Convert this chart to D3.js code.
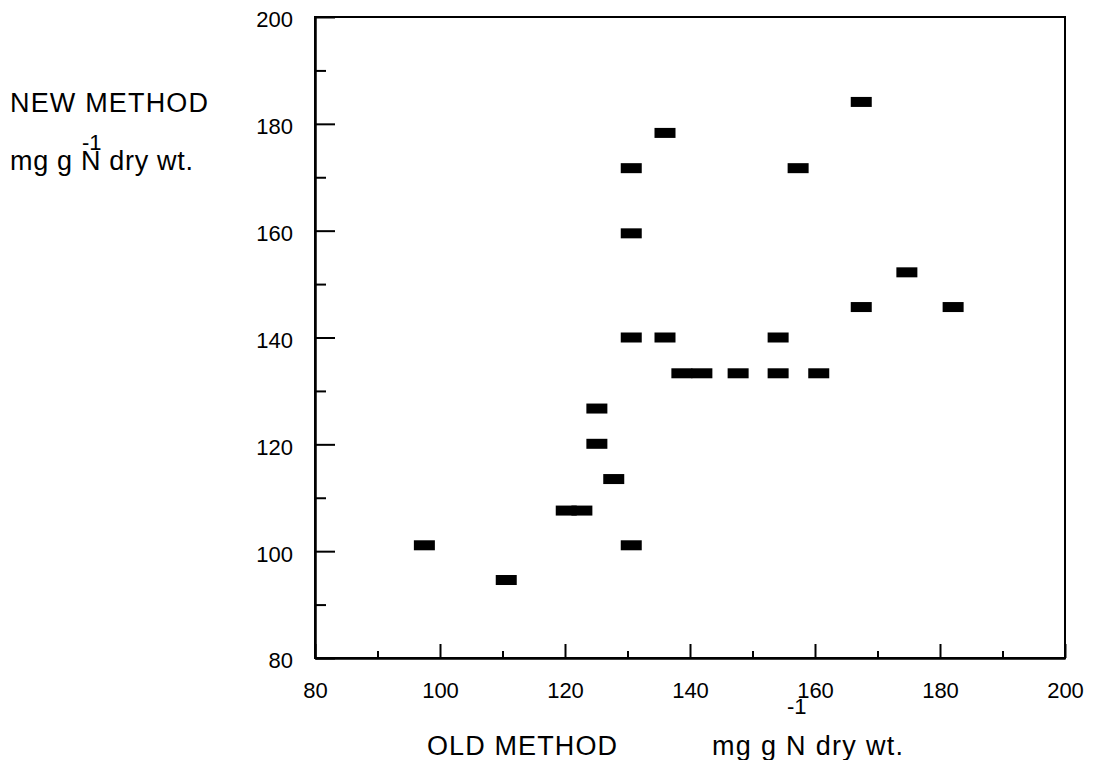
<!DOCTYPE html>
<html lang="en">
<head>
<meta charset="UTF-8">
<title>New method vs old method</title>
<script src="https://d3js.org/d3.v7.min.js"></script>
<style>
  body { margin: 0; background: #fff; }
  text { font-family: "Liberation Sans", Arial, Helvetica, sans-serif; fill: #000; }
</style>
</head>
<body>
<div id="chart"></div>
<script>
    // values (mg g-1 N dry wt.)
    var oldMethod = [97.5, 110.6, 120.2, 122.7, 125.1, 125.1, 127.8, 130.6, 130.6, 130.6, 130.6,
                     136.0, 136.0, 138.7, 141.9, 147.7, 154.1, 154.1, 160.6, 157.3, 167.4, 167.4,
                     174.7, 182.1];
    var newMethod = [101.1, 94.6, 107.6, 107.6, 126.7, 120.1, 113.5, 101.1, 140.0, 159.5, 171.7,
                     178.3, 140.0, 133.3, 133.3, 133.3, 133.3, 140.0, 133.3, 171.7, 184.1, 145.7,
                     152.2, 145.7];

    var majorTicks = [80, 100, 120, 140, 160, 180, 200];
    var minorTicks = [90, 110, 130, 150, 170, 190];

    var W = 1095, H = 760;
    // plot box (named so they don't clash with window.top)
    var plotLeft = 315, plotRight = 1065, plotTop = 17, plotBottom = 658;

    var svg = d3.select("#chart").append("svg")
        .attr("width", W)
        .attr("height", H);

    var x = d3.scaleLinear().domain([80, 200]).range([plotLeft, plotRight]);
    var y = d3.scaleLinear().domain([80, 200]).range([plotBottom, plotTop]);

    // frame
    svg.append("rect")
        .attr("x", plotLeft).attr("y", plotTop)
        .attr("width", plotRight - plotLeft).attr("height", plotBottom - plotTop)
        .attr("fill", "none")
        .attr("stroke", "#000")
        .attr("stroke-width", 2);

    // bottom axis: labelled major ticks + short minor ticks, both pointing in
    svg.append("g")
        .attr("transform", "translate(0," + plotBottom + ")")
        .call(d3.axisBottom(x).tickValues(majorTicks).tickSizeInner(-14).tickSizeOuter(0).tickPadding(24));
    svg.append("g")
        .attr("transform", "translate(0," + plotBottom + ")")
        .call(d3.axisBottom(x).tickValues(minorTicks).tickSizeInner(-7).tickSizeOuter(0).tickFormat(""));

    // left axis
    var yAxis = svg.append("g")
        .attr("transform", "translate(" + plotLeft + ",0)")
        .call(d3.axisLeft(y).tickValues(majorTicks).tickSizeInner(-20).tickSizeOuter(0).tickPadding(22));
    svg.append("g")
        .attr("transform", "translate(" + plotLeft + ",0)")
        .call(d3.axisLeft(y).tickValues(minorTicks).tickSizeInner(-11).tickSizeOuter(0).tickFormat(""));

    svg.selectAll(".domain").attr("stroke", "#000").attr("stroke-width", 2);
    svg.selectAll(".tick line").attr("stroke", "#000").attr("stroke-width", 2);
    svg.selectAll(".tick text")
        .style("font-family", "'Liberation Sans', Arial, sans-serif")
        .style("font-size", "22px")
        .attr("fill", "#000");
    yAxis.selectAll(".tick text").attr("dy", "0.45em");

    // the data: small filled bars
    var mw = 21, mh = 10;
    svg.selectAll(".pt")
        .data(oldMethod)
        .enter()
        .append("rect")
        .attr("class", "pt")
        .attr("x", function(d) { return x(d) - mw / 2; })
        .attr("y", function(d, i) { return y(newMethod[i]) - mh / 2; })
        .attr("width", mw)
        .attr("height", mh)
        .attr("fill", "#000");

    // unit label "mg g N dry wt." with the -1 sitting above the N
    function unitLabel(x0, yBase, width, supY) {
        var t = svg.append("text")
            .attr("x", x0).attr("y", yBase)
            .attr("textLength", width)
            .attr("lengthAdjust", "spacing")
            .style("font-size", "27px")
            .text("mg g N dry wt.");
        var nx = t.node().getStartPositionOfChar(5).x;
        svg.append("text")
            .attr("x", nx + 1).attr("y", supY)
            .style("font-size", "22px")
            .text("-1");
    }

    // y axis title (top left)
    svg.append("text")
        .attr("x", 10).attr("y", 112)
        .attr("textLength", 198)
        .attr("lengthAdjust", "spacing")
        .style("font-size", "27px")
        .text("NEW METHOD");
    unitLabel(10, 170, 183, 150);

    // x axis title (bottom)
    svg.append("text")
        .attr("x", 427).attr("y", 755)
        .attr("textLength", 190)
        .attr("lengthAdjust", "spacing")
        .style("font-size", "27px")
        .text("OLD METHOD");
    unitLabel(712, 755, 191, 714);
</script>
</body>
</html>
